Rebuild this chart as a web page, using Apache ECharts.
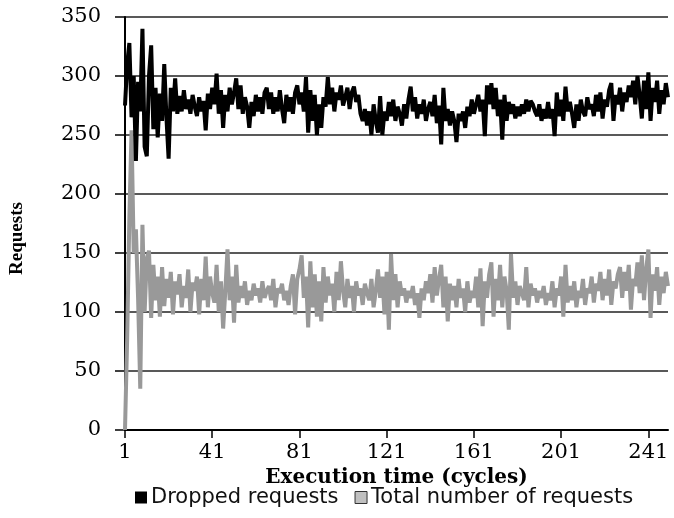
<!DOCTYPE html>
<html>
<head>
<meta charset="utf-8">
<script src="https://cdn.jsdelivr.net/npm/echarts@6/dist/echarts.min.js"></script>
<style>
html, body { margin: 0; padding: 0; background: #fff; }
#main { width: 674px; height: 518px; }
</style>
</head>
<body>
<div id="main"></div>
<script>
// cycles 1..250
var cycles = [];
for (var c = 1; c <= 250; c++) cycles.push(String(c));

var dropped = [
  275, 310, 328, 265, 300, 228, 295, 270, 340, 240, 232, 300, 326, 255, 290, 248, 285, 262, 310, 265,
  230, 290, 270, 298, 268, 283, 270, 288, 272, 280, 268, 284, 274, 266, 282, 270, 279, 254, 285, 272,
  290, 276, 302, 268, 288, 256, 284, 270, 290, 276, 286, 298, 272, 292, 268, 282, 274, 256, 278, 266,
  284, 270, 282, 268, 286, 290, 272, 286, 268, 282, 270, 288, 272, 260, 284, 270, 282, 268, 286, 292,
  276, 286, 270, 299, 252, 288, 262, 284, 250, 276, 256, 282, 274, 299, 276, 290, 270, 286, 280, 292,
  275, 282, 290, 272, 286, 291, 278, 284, 268, 262, 272, 258, 270, 250, 276, 262, 252, 283, 250, 270,
  262, 278, 266, 280, 262, 274, 268, 258, 276, 264, 280, 291, 270, 282, 264, 276, 268, 280, 262, 272,
  278, 266, 284, 260, 275, 242, 290, 262, 272, 258, 270, 262, 244, 268, 262, 270, 256, 274, 266, 280,
  268, 276, 284, 270, 280, 249, 292, 276, 294, 272, 290, 266, 280, 246, 284, 262, 278, 268, 276, 264,
  274, 266, 276, 268, 280, 270, 279, 276, 270, 266, 276, 262, 272, 264, 278, 264, 272, 249, 286, 266,
  280, 262, 291, 270, 278, 268, 256, 276, 262, 280, 270, 266, 282, 272, 276, 266, 284, 270, 286, 264,
  280, 274, 288, 294, 262, 284, 276, 290, 270, 286, 278, 292, 282, 296, 276, 300, 284, 264, 296, 272,
  303, 262, 290, 278, 296, 268, 288, 276, 294, 282
];

var total = [
  0, 78, 180, 254, 150, 170, 112, 35, 174, 100, 145, 152, 95, 140, 110, 130, 96, 138, 105, 128,
  112, 134, 98, 126, 115, 132, 104, 122, 112, 136, 100, 125, 118, 130, 98, 128, 110, 147, 104, 130,
  116, 108, 140, 100, 126, 86, 118, 153, 110, 130, 91, 140, 108, 122, 112, 126, 106, 118, 110, 124,
  114, 120, 108, 126, 112, 118, 122, 110, 128, 104, 120, 116, 124, 110, 118, 106, 122, 132, 98, 128,
  136, 148, 112, 130, 87, 143, 104, 132, 96, 126, 92, 138, 108, 130, 114, 124, 100, 134, 110, 143,
  118, 104, 128, 112, 122, 100, 126, 114, 120, 106, 124, 116, 110, 128, 104, 118, 136, 112, 130, 98,
  134, 85, 149, 110, 132, 104, 126, 114, 120, 108, 118, 112, 122, 106, 116, 95, 120, 110, 126, 116,
  132, 108, 138, 114, 128, 140, 104, 130, 92, 124, 110, 122, 104, 128, 112, 120, 100, 126, 108, 118,
  112, 130, 104, 137, 88, 126, 112, 132, 142, 96, 128, 110, 140, 104, 130, 118, 85, 149, 112, 126,
  106, 122, 116, 110, 138, 104, 124, 114, 120, 108, 118, 112, 122, 106, 116, 110, 126, 104, 120, 114,
  130, 96, 140, 108, 122, 110, 126, 104, 118, 112, 128, 106, 120, 116, 130, 108, 124, 118, 134, 110,
  128, 114, 136, 106, 126, 120, 132, 138, 112, 134, 118, 140, 102, 128, 122, 142, 116, 148, 110, 136,
  153, 95, 132, 118, 138, 106, 130, 116, 134, 122
];

var yTicks = { min: 0, max: 350, step: 50 };

var myChart = echarts.init(document.getElementById('main'));
var serif = 'DejaVu Serif';
var option = {
    animation: false,
    backgroundColor: '#fff',
    grid: {
        left: 121,
        right: 6,
        top: 17,
        bottom: 88
    },
    legend: {
        data: [
            { name: 'Dropped requests', itemStyle: { color: '#000' } },
            { name: 'Total number of requests', itemStyle: { color: '#c0c0c0', borderColor: '#333', borderWidth: 1 } }
        ],
        icon: 'rect',
        itemWidth: 12,
        itemHeight: 12,
        itemGap: 16,
        left: 130,
        top: 482,
        textStyle: {
            fontFamily: 'DejaVu Sans',
            fontSize: 21,
            color: '#111',
            padding: [0, 0, 0, -1]
        }
    },
    xAxis: {
        type: 'category',
        boundaryGap: false,
        data: cycles,
        name: 'Execution time (cycles)',
        nameLocation: 'middle',
        nameGap: 26,
        nameTextStyle: {
            fontFamily: serif,
            fontWeight: 'bold',
            fontSize: 20,
            color: '#000'
        },
        axisLine: { lineStyle: { color: '#000', width: 2 } },
        axisTick: { interval: 39, length: 8, lineStyle: { color: '#000', width: 1.5 } },
        axisLabel: {
            interval: 39,
            margin: 12,
            fontFamily: serif,
            fontSize: 21,
            color: '#000'
        },
        splitLine: { show: false }
    },
    yAxis: {
        type: 'value',
        min: yTicks.min,
        max: yTicks.max,
        interval: yTicks.step,
        name: 'Requests',
        nameLocation: 'middle',
        nameGap: 98,
        nameTextStyle: {
            fontFamily: 'Liberation Serif',
            fontWeight: 'bold',
            fontSize: 19,
            color: '#000',
            padding: [0, 30, 0, 0]
        },
        axisLine: { show: true, lineStyle: { color: '#000', width: 2 } },
        axisTick: { show: true, length: 10, lineStyle: { color: '#000', width: 1.5 } },
        axisLabel: {
            margin: 24,
            fontFamily: serif,
            fontSize: 21,
            color: '#000'
        },
        splitLine: { show: true, lineStyle: { color: '#222', width: 1.5 } }
    },
    series: [
        {
            name: 'Total number of requests',
            type: 'line',
            data: total,
            symbol: 'none',
            z: 2,
            lineStyle: { color: '#999', width: 4 },
            itemStyle: { color: '#999' }
        },
        {
            name: 'Dropped requests',
            type: 'line',
            data: dropped,
            symbol: 'none',
            z: 3,
            lineStyle: { color: '#000', width: 4 },
            itemStyle: { color: '#000' }
        }
    ]
};
myChart.setOption(option);
</script>
</body>
</html>
